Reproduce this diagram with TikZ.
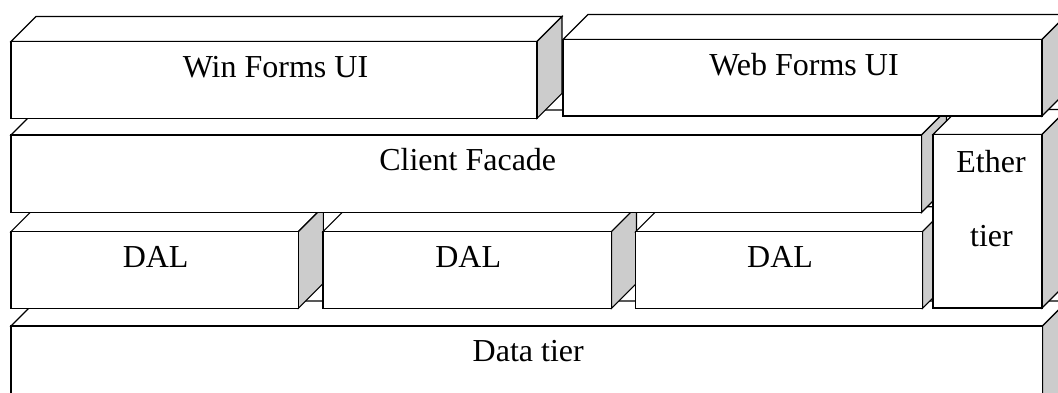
\documentclass[tikz,border=0pt]{standalone}
\usepackage{fontspec}
\setmainfont{Liberation Serif}
\definecolor{sidegray}{RGB}{204,204,204}
\tikzset{
  face/.style={draw=black, fill=white, line width=1.1pt, line join=miter},
  sideface/.style={draw=black, fill=sidegray, line width=1.1pt, line join=miter},
  lbl/.style={font=\fontsize{32}{38}\selectfont, inner sep=0pt, anchor=base},
}
\newcommand{\dep}{25}
% name, x1, y1, x2, y2 (front face, y downward)
\newcommand{\cuboidbox}[5]{%
  \filldraw[face] (#2,#3) -- (#2+\dep,#3-\dep) -- (#4+\dep,#3-\dep) -- (#4,#3) -- cycle;
  \filldraw[sideface] (#4,#3) -- (#4+\dep,#3-\dep) -- (#4+\dep,#5-\dep) -- (#4,#5) -- cycle;
  \filldraw[face] (#2,#3) rectangle (#4,#5);
  \coordinate (#1-nw) at (#2,#3);
  \coordinate (#1-se) at (#4,#5);
}
\begin{document}
\begin{tikzpicture}[x=1pt,y=-1pt]
\useasboundingbox (0,0) rectangle (1058,392);
\clip (0,0) rectangle (1058,392);
% Data tier
\cuboidbox{data}{11}{326}{1042.5}{430}
\node[lbl] (datat) at ({(11+1042.5)/2+1.5},{326+35.7}) {Data tier};
% DAL boxes
\cuboidbox{dalA}{11}{231.7}{298.3}{308.3}
\node[lbl] (dala) at ({(11+298.3)/2+1},{231.7+35.7}) {DAL};
\cuboidbox{dalB}{323}{231.7}{611.5}{308.3}
\node[lbl] (dalb) at ({(323+611.5)/2+1},{231.7+35.7}) {DAL};
\cuboidbox{dalC}{635.7}{231.7}{922.5}{308.3}
\node[lbl] (dalc) at ({(635.7+922.5)/2+1},{231.7+35.7}) {DAL};
% Client Facade
\cuboidbox{cf}{11}{135}{921.5}{212.5}
\node[lbl] (cft) at ({(11+921.5)/2+1.5},{135+35.7}) {Client Facade};
% Ether tier
\cuboidbox{eth}{933}{134.5}{1042}{308}
\node[lbl] (etha) at (991,172.3) {Ether};
\node[lbl] (ethb) at (991.5,246.7) {tier};
% Web Forms UI
\cuboidbox{web}{563}{39.5}{1042}{116}
\node[lbl] (webt) at ({(563+1042)/2+1.5},{39.5+35.7}) {Web Forms UI};
% Win Forms UI
\cuboidbox{win}{11}{41.5}{537}{118.3}
\node[lbl] (wint) at ({(11+537)/2+1.5},{41.5+35.7}) {Win Forms UI};
\end{tikzpicture}
\end{document}
